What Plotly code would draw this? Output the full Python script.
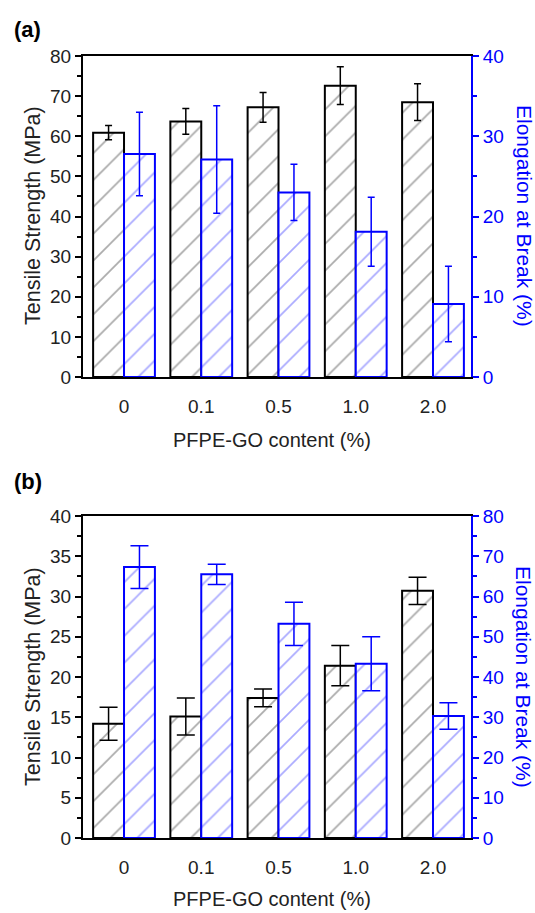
import plotly.graph_objects as go

categories = ["0", "0.1", "0.5", "1.0", "2.0"]

# Panel (a)
a_strength = [60.9, 63.7, 67.2, 72.6, 68.5]
a_strength_err = [1.8, 3.2, 3.7, 4.7, 4.6]
a_elong = [27.8, 27.1, 23.0, 18.1, 9.1]
a_elong_err = [5.2, 6.7, 3.5, 4.3, 4.7]

# Panel (b)
b_strength = [14.2, 15.1, 17.4, 21.4, 30.7]
b_strength_err = [2.05, 2.3, 1.1, 2.5, 1.7]
b_elong = [67.3, 65.5, 53.2, 43.3, 30.3]
b_elong_err = [5.3, 2.5, 5.4, 6.7, 3.3]

FONT = "Arial, Liberation Sans, sans-serif"
BLUE = "#0000ff"

W, H = 535, 913
L, R, T, B = 83, 64, 56, 75
PW = W - L - R
PH = H - T - B


def px_x(x):
    return (x - L) / PW


def px_y(y):
    return (H - B - y) / PH


fig = go.Figure()


def add_panel(xa, ya, ya2, strength, serr, elong, eerr, capw):
    fig.add_trace(go.Bar(
        x=categories, y=strength, xaxis=xa, yaxis=ya,
        width=0.4, offset=-0.4,
        marker=dict(color="white", line=dict(color="black", width=2),
                    pattern=dict(shape="/", fgcolor="#555555", bgcolor="white",
                                 size=19, solidity=0.09)),
        error_y=dict(type="data", array=serr, color="black", thickness=1.5, width=capw),
        showlegend=False,
    ))
    fig.add_trace(go.Bar(
        x=categories, y=elong, xaxis=xa, yaxis=ya2,
        width=0.4, offset=0.0,
        marker=dict(color="white", line=dict(color=BLUE, width=2),
                    pattern=dict(shape="/", fgcolor="#5555ff", bgcolor="white",
                                 size=19, solidity=0.09)),
        error_y=dict(type="data", array=eerr, color=BLUE, thickness=1.5, width=capw),
        showlegend=False,
    ))


add_panel("x", "y", "y2", a_strength, a_strength_err, a_elong, a_elong_err, 3.5)
add_panel("x2", "y3", "y4", b_strength, b_strength_err, b_elong, b_elong_err, 9)

dom_a = [px_y(377), 1.0]
dom_b = [0.0, px_y(516)]

xcommon = dict(type="category", categoryorder="array", categoryarray=categories,
               range=[-0.531, 4.492], showline=True, linecolor="black", linewidth=2,
               mirror=True, ticks="", showgrid=False, zeroline=False,
               tickfont=dict(family=FONT, size=19, color="#222"),
               ticklabelstandoff=11)


def yax(dom, rng, dtick, color, side, anchor, overlaying=None):
    d = dict(domain=dom, range=rng, dtick=dtick, tick0=0, showline=True, linecolor=color,
             linewidth=2, ticks="outside", ticklen=6, tickwidth=2, tickcolor=color,
             showgrid=False, zeroline=False, side=side, anchor=anchor,
             tickfont=dict(family=FONT, size=19, color=color if color != "black" else "#222"),
             minor=dict(dtick=dtick / 2, ticks="outside", ticklen=4, tickwidth=1.5,
                        tickcolor=color, showgrid=False))
    if overlaying:
        d["overlaying"] = overlaying
    return d


fig.update_layout(
    width=W, height=H,
    margin=dict(l=L, r=R, t=T, b=B, autoexpand=False),
    paper_bgcolor="white", plot_bgcolor="white",
    xaxis=dict(xcommon, domain=[0, 1], anchor="y"),
    xaxis2=dict(xcommon, domain=[0, 1], anchor="y3"),
    yaxis=yax(dom_a, [0, 80], 10, "black", "left", "x"),
    yaxis2=yax(dom_a, [0, 40], 10, BLUE, "right", "x", overlaying="y"),
    yaxis3=yax(dom_b, [0, 40], 5, "black", "left", "x2"),
    yaxis4=yax(dom_b, [0, 80], 10, BLUE, "right", "x2", overlaying="y3"),
)

ann = []
for lab, yc in [("(a)", 29), ("(b)", 482)]:
    ann.append(dict(text="<b>%s</b>" % lab, x=px_x(12), y=px_y(yc), xref="paper", yref="paper",
                    xanchor="left", yanchor="middle", showarrow=False,
                    font=dict(family=FONT, size=22, color="black")))
for yc in [216, 677]:
    ann.append(dict(text="Tensile Strength (MPa)", x=px_x(33), y=px_y(yc), xref="paper", yref="paper",
                    xanchor="center", yanchor="middle", textangle=-90, showarrow=False,
                    font=dict(family=FONT, size=21.5, color="#222")))
    ann.append(dict(text="Elongation at Break (%)", x=px_x(524), y=px_y(yc), xref="paper", yref="paper",
                    xanchor="center", yanchor="middle", textangle=90, showarrow=False,
                    font=dict(family=FONT, size=21, color=BLUE)))
for yc in [440, 899]:
    ann.append(dict(text="PFPE-GO content (%)", x=px_x(272), y=px_y(yc), xref="paper", yref="paper",
                    xanchor="center", yanchor="middle", showarrow=False,
                    font=dict(family=FONT, size=20, color="#222")))
fig.update_layout(annotations=ann)

fig.write_html("out.html", config={"displayModeBar": False},
               post_script="document.body.style.margin='0px';")
